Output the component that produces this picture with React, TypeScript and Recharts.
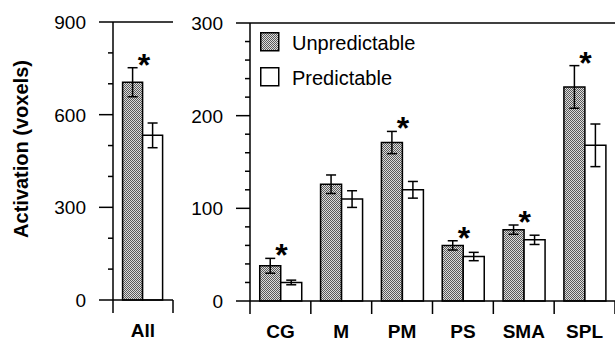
import { Bar, ComposedChart, ErrorBar, Legend, ReferenceLine, Scatter, XAxis, YAxis } from "recharts";

// region panel
const regions = ["CG", "M", "PM", "PS", "SMA", "SPL"];
const regionUnpredictable = [38, 126, 171, 60, 77, 231];
const regionUnpredictableErr = [8, 10, 12, 5, 5, 23];
const regionPredictable = [20, 110, 120, 48, 66, 168];
const regionPredictableErr = [2.5, 9, 9, 4.5, 5, 23];
const regionSignificant = [true, false, true, true, true, true];
const regionTicks = [0, 20, 40, 60, 80, 100, 120, 140, 160, 180, 200, 220, 240, 260, 280, 300];

// overall panel
const overall = ["All"];
const overallUnpredictable = [705];
const overallUnpredictableErr = [47];
const overallPredictable = [533];
const overallPredictableErr = [40];
const overallSignificant = [true];
const overallTicks = [0, 100, 200, 300, 400, 500, 600, 700, 800, 900];

const seriesOrder = ["u", "p"];

const FONT = "'Liberation Sans', Arial, Helvetica, sans-serif";

function buildRows(
  names: string[],
  u: number[],
  uErr: number[],
  p: number[],
  pErr: number[],
  sig: boolean[]
) {
  return names.map((name, i) => ({
    name,
    u: u[i],
    uErr: uErr[i],
    p: p[i],
    pErr: pErr[i],
    star: sig[i] ? u[i] + uErr[i] : null,
  }));
}

function ValueTick(props: any) {
  const { x, y, payload, major } = props;
  const isMajor = payload.value % major === 0;
  return (
    <g>
      <line x1={x - (isMajor ? 14 : 5)} x2={x} y1={y} y2={y} stroke="#000" strokeWidth={1.5} />
      {isMajor && (
        <text x={x - 27} y={y} dy="0.36em" textAnchor="end" fontSize={19} fontFamily={FONT} fill="#000">
          {payload.value}
        </text>
      )}
    </g>
  );
}

function CategoryTick(props: any) {
  const { x, y, payload, index, band, count } = props;
  return (
    <g>
      <line x1={x - band / 2} x2={x - band / 2} y1={y} y2={y + 13} stroke="#000" strokeWidth={1.5} />
      {index === count - 1 && (
        <line x1={x + band / 2} x2={x + band / 2} y1={y} y2={y + 13} stroke="#000" strokeWidth={1.5} />
      )}
      <text x={x} y={y + 37} textAnchor="middle" fontSize={19} fontWeight="bold" fontFamily={FONT} fill="#000">
        {payload.value}
      </text>
    </g>
  );
}

function Star(props: any) {
  if (props.payload == null || props.payload.star == null) return <g />;
  return (
    <text x={props.cx + 1} y={props.cy + 8} textAnchor="middle" fontSize={32} fontWeight="bold" fontFamily={FONT} fill="#000">
      *
    </text>
  );
}

function LegendBox(props: any) {
  const items = (props.payload || [])
    .filter((e: any) => seriesOrder.includes(e.dataKey))
    .sort((a: any, b: any) => seriesOrder.indexOf(a.dataKey) - seriesOrder.indexOf(b.dataKey));
  return (
    <div style={{ fontFamily: FONT }}>
      {items.map((e: any) => (
        <div key={e.value} style={{ display: "flex", alignItems: "flex-start", height: 19, marginBottom: 16 }}>
          <svg width={20} height={20} style={{ display: "block" }}>
            <rect x={0.75} y={0.75} width={18} height={18} fill={e.color} stroke="#000" strokeWidth={1.5} />
          </svg>
          <span style={{ marginLeft: 12, fontSize: 20, lineHeight: "20px", color: "#000", marginTop: 1 }}>{e.value}</span>
        </div>
      ))}
    </div>
  );
}

interface PanelProps {
  id: string;
  rows: any[];
  width: number;
  axisWidth: number;
  top: number;
  right: number;
  xAxisHeight: number;
  domainMax: number;
  ticks: number[];
  major: number;
  legend?: boolean;
  yLabel?: boolean;
  rightBorder?: boolean;
}

function Panel({ id, rows, width, axisWidth, top, right, xAxisHeight, domainMax, ticks, major, legend, yLabel, rightBorder }: PanelProps) {
  const height = 343;
  const band = (width - axisWidth - right) / rows.length;
  const fillId = `halftone-${id}`;
  return (
    <ComposedChart
      width={width}
      height={height}
      data={rows}
      margin={{ top, right, bottom: 0, left: 0 }}
      barCategoryGap="16%"
      barGap={0}
    >
      <defs>
        <pattern id={fillId} width={2} height={2} patternUnits="userSpaceOnUse">
          <rect width={2} height={2} fill="#dcdcdc" />
          <rect width={1} height={1} fill="#5a5a5a" />
          <rect x={1} y={1} width={1} height={1} fill="#5a5a5a" />
        </pattern>
      </defs>
      <XAxis
        dataKey="name"
        height={xAxisHeight}
        tickSize={0}
        tickMargin={0}
        interval={0}
        axisLine={{ stroke: "#000", strokeWidth: 1.5 }}
        tickLine={false}
        tick={(p: any) => <CategoryTick {...p} band={band} count={rows.length} />}
      />
      <YAxis
        type="number"
        domain={[0, domainMax]}
        ticks={ticks}
        interval={0}
        width={axisWidth}
        tickSize={0}
        tickMargin={0}
        tickLine={false}
        axisLine={{ stroke: "#000", strokeWidth: 1.5 }}
        tick={(p: any) => <ValueTick {...p} major={major} />}
        label={
          yLabel
            ? () => (
                <text
                  transform="translate(21,149) rotate(-90)"
                  textAnchor="middle"
                  dominantBaseline="central"
                  fontSize={20}
                  fontWeight="bold"
                  fontFamily={FONT}
                  fill="#000"
                >
                  Activation (voxels)
                </text>
              )
            : undefined
        }
      />
      {rightBorder && (
        <YAxis
          yAxisId="frame"
          orientation="right"
          width={0}
          tick={false}
          tickLine={false}
          axisLine={{ stroke: "#000", strokeWidth: 1.5 }}
        />
      )}
      <ReferenceLine y={domainMax} stroke="#000" strokeWidth={1.5} />
      {legend && (
        <Legend
          layout="vertical"
          align="center"
          verticalAlign="middle"
          content={<LegendBox />}
          wrapperStyle={{ left: 80, top: 32, width: "auto", height: "auto" }}
        />
      )}
      <Bar dataKey="u" name="Unpredictable" fill={`url(#${fillId})`} stroke="#000" strokeWidth={1.5} isAnimationActive={false}>
        <ErrorBar dataKey="uErr" width={5} stroke="#000" strokeWidth={1.5} />
      </Bar>
      <Bar dataKey="p" name="Predictable" fill="#fff" stroke="#000" strokeWidth={1.5} isAnimationActive={false}>
        <ErrorBar dataKey="pErr" width={5} stroke="#000" strokeWidth={1.5} />
      </Bar>
      <Scatter dataKey="star" legendType="none" shape={<Star />} isAnimationActive={false} />
    </ComposedChart>
  );
}

export default function App() {
  const overallRows = buildRows(
    overall,
    overallUnpredictable,
    overallUnpredictableErr,
    overallPredictable,
    overallPredictableErr,
    overallSignificant
  );
  const regionRows = buildRows(
    regions,
    regionUnpredictable,
    regionUnpredictableErr,
    regionPredictable,
    regionPredictableErr,
    regionSignificant
  );
  return (
    <div
      style={{
        position: "absolute",
        left: 0,
        top: 0,
        width: 615,
        height: 343,
        display: "flex",
        background: "#fff",
        overflow: "hidden",
        fontFamily: FONT,
      }}
    >
      <Panel
        id="left"
        rows={overallRows}
        width={180}
        axisWidth={113}
        top={22}
        right={7}
        xAxisHeight={43}
        domainMax={900}
        ticks={overallTicks}
        major={300}
        yLabel
        rightBorder
      />
      <Panel
        id="right"
        rows={regionRows}
        width={435}
        axisWidth={70}
        top={23}
        right={0}
        xAxisHeight={42}
        domainMax={300}
        ticks={regionTicks}
        major={100}
        legend
      />
    </div>
  );
}
